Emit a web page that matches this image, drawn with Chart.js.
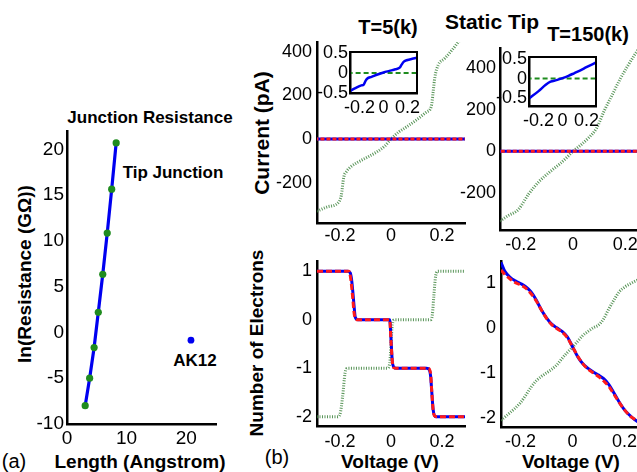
<!DOCTYPE html>
<html>
<head>
<meta charset="utf-8">
<script src="https://cdn.jsdelivr.net/npm/chart.js@4.4.1/dist/chart.umd.min.js"></script>
<style>
  body { margin: 0; width: 637px; height: 472px; overflow: hidden; background: #fff; position: relative;
         font-family: "Liberation Sans", Arial, sans-serif; color: #000; }
  canvas { position: absolute; }
  .lbl { position: absolute; white-space: nowrap; font-weight: bold; line-height: 1; transform: translate(-50%, -50%); }
  .rot { transform: translate(-50%, -50%) rotate(-90deg); }
  .plain { font-weight: normal; }
</style>
</head>
<body>
<div class="lbl" style="left:150px;top:117px;font-size:17px">Junction Resistance</div>
<div class="lbl" style="left:173px;top:172px;font-size:17px">Tip Junction</div>
<div class="lbl" style="left:195px;top:360px;font-size:17px">AK12</div>
<div class="lbl plain" style="left:14px;top:461px;font-size:20px">(a)</div>
<div class="lbl" style="left:140px;top:461px;font-size:19px">Length (Angstrom)</div>
<div class="lbl rot" style="left:24px;top:274px;font-size:19px">ln(Resistance (GΩ))</div>
<div class="lbl" style="left:388px;top:27px;font-size:20px">T=5(k)</div>
<div class="lbl" style="left:492px;top:21px;font-size:21px">Static Tip</div>
<div class="lbl" style="left:588px;top:34px;font-size:20px">T=150(k)</div>
<div class="lbl rot" style="left:261px;top:133px;font-size:21px">Current (pA)</div>
<div class="lbl rot" style="left:256px;top:343px;font-size:19px">Number of Electrons</div>
<div class="lbl plain" style="left:277px;top:457px;font-size:20px">(b)</div>
<div class="lbl" style="left:390px;top:461px;font-size:19px">Voltage (V)</div>
<div class="lbl" style="left:571px;top:461px;font-size:19px">Voltage (V)</div>
<script>
// (a) junction resistance vs length
const lenA = [3.05, 3.8, 4.55, 5.25, 6.0, 6.75, 7.5, 8.25];
const lnResA = [-8.0, -5.0, -1.65, 2.2, 6.35, 10.85, 15.65, 20.7];
const ak12Len = [20.8];
const ak12Res = [-0.85];
const ticksLen = [0, 10, 20];
const ticksLnRes = [-10, -5, 0, 5, 10, 15, 20];

// (b) shared ticks
const ticksV = [-0.2, 0, 0.2];
const ticksCur = [-200, 0, 200, 400];
const ticksNe = [-2, -1, 0, 1];
const ticksInset = [-0.5, 0, 0.5];
const zeroV = [-0.3, 0.3];
const zeroI = [0, 0];

// current, T=5 (green dotted)
const vCur5 = [-0.29, -0.25, -0.205, -0.195, -0.185, -0.175, -0.16, -0.135, -0.09, -0.05, -0.025, 0, 0.03, 0.06, 0.10, 0.14, 0.158, 0.165, 0.172, 0.185, 0.21, 0.24, 0.27, 0.29];
const iCur5 = [-332, -312, -290, -260, -175, -150, -130, -110, -82, -55, -33, 0, 32, 55, 88, 125, 150, 215, 285, 340, 370, 410, 455, 480];
// current, T=150 (green dotted)
const vCur150 = [-0.28, -0.25, -0.21, -0.17, -0.13, -0.09, -0.05, -0.02, 0, 0.03, 0.06, 0.09, 0.12, 0.15, 0.18, 0.21, 0.24, 0.28];
const iCur150 = [-335, -310, -280, -205, -145, -100, -60, -25, 0, 30, 65, 110, 195, 270, 345, 410, 470, 540];
// insets (blue)
const vIn5 = [-0.28, -0.23, -0.185, -0.165, -0.15, -0.135, -0.1, -0.05, 0, 0.05, 0.1, 0.135, 0.15, 0.17, 0.2, 0.24, 0.28];
const iIn5 = [-0.45, -0.37, -0.31, -0.29, -0.2, -0.14, -0.1, -0.04, 0.01, 0.05, 0.09, 0.13, 0.2, 0.28, 0.32, 0.35, 0.38];
const vIn150 = [-0.28, -0.2, -0.14, -0.1, -0.05, 0, 0.05, 0.1, 0.15, 0.2, 0.28];
const iIn150 = [-0.51, -0.32, -0.16, -0.08, -0.04, 0.01, 0.07, 0.14, 0.21, 0.29, 0.41];

// electrons, T=5
const vNeBlue5 = [-0.29, -0.17, -0.16, -0.155, -0.15, -0.145, -0.14, -0.13, -0.005, 0, 0.005, 0.012, 0.02, 0.14, 0.15, 0.155, 0.16, 0.165, 0.175, 0.29];
const nBlue5 = [1, 1, 0.97, 0.85, 0.6, 0.3, 0.05, 0, 0, -0.4, -0.85, -0.98, -1, -1, -1.03, -1.15, -1.5, -1.85, -2, -2];
const vNeRed5 = [-0.29, -0.165, -0.158, -0.15, -0.145, -0.14, -0.13, -0.005, 0, 0.006, 0.012, 0.02, 0.145, 0.155, 0.16, 0.165, 0.17, 0.18, 0.29];
const nRed5 = [1, 1, 0.85, 0.45, 0.15, 0.02, 0, 0, -0.45, -0.9, -0.99, -1, -1, -1.1, -1.5, -1.85, -1.98, -2, -2];
const vNeGreen5 = [-0.29, -0.21, -0.2, -0.19, -0.18, -0.17, -0.015, -0.005, 0, 0.005, 0.015, 0.155, 0.162, 0.168, 0.175, 0.185, 0.29];
const nGreen5 = [-2, -2, -1.95, -1.6, -1.1, -1, -1, -0.9, -0.5, -0.1, 0, 0, 0.1, 0.5, 0.9, 1, 1];

// electrons, T=150
const vNe150 = [-0.275, -0.26, -0.24, -0.22, -0.2, -0.18, -0.16, -0.14, -0.12, -0.1, -0.08, -0.06, -0.04, -0.02, 0, 0.02, 0.04, 0.06, 0.08, 0.1, 0.12, 0.14, 0.16, 0.18, 0.2, 0.22, 0.24, 0.26, 0.275];
const nBlue150 = [1.45, 1.25, 1.12, 1.04, 0.98, 0.91, 0.8, 0.62, 0.4, 0.22, 0.08, 0.0, -0.08, -0.2, -0.42, -0.64, -0.8, -0.9, -0.98, -1.05, -1.13, -1.26, -1.45, -1.65, -1.82, -1.94, -2.04, -2.12, -2.18];
const nRed150 = [1.28, 1.18, 1.08, 1.0, 0.95, 0.88, 0.76, 0.6, 0.4, 0.21, 0.07, -0.02, -0.1, -0.22, -0.42, -0.63, -0.8, -0.92, -1.0, -1.08, -1.18, -1.3, -1.48, -1.66, -1.82, -1.95, -2.03, -2.1, -2.15];
const nGreen150 = [-2.05, -1.98, -1.88, -1.78, -1.66, -1.5, -1.32, -1.18, -1.08, -1.0, -0.92, -0.82, -0.68, -0.55, -0.43, -0.3, -0.17, -0.08, 0.0, 0.06, 0.2, 0.42, 0.62, 0.8, 0.9, 0.97, 1.03, 1.08, 1.12];

const BLUE = '#0000f0';
const RED = '#ff1a1a';
const GREEN = '#1f8c1f';
const GREEN_DOT = 'rgba(60,130,60,0.85)';

Chart.defaults.font.family = '"Liberation Sans", Arial, sans-serif';
Chart.defaults.color = '#000';

const pts = (xs, ys) => xs.map((x, i) => ({ x: x, y: ys[i] }));

function line(xs, ys, color, width, dash) {
  return {
    data: pts(xs, ys), showLine: true, borderColor: color, borderWidth: width,
    borderDash: dash || [], pointRadius: 0, cubicInterpolationMode: 'monotone', fill: false
  };
}

// white box with a full black frame, for the insets
const framePlugin = {
  id: 'frame',
  beforeDraw(chart) {
    const a = chart.chartArea, ctx = chart.ctx;
    ctx.save();
    ctx.fillStyle = '#fff';
    ctx.fillRect(a.left, a.top, a.right - a.left, a.bottom - a.top);
    ctx.restore();
  },
  afterDatasetsDraw(chart) {
    const a = chart.chartArea, ctx = chart.ctx;
    ctx.save();
    ctx.strokeStyle = '#000';
    ctx.lineWidth = 2;
    ctx.strokeRect(a.left, a.top, a.right - a.left, a.bottom - a.top);
    ctx.restore();
  }
};

function axis(range, ticks, size, horiz, font, gap) {
  return {
    type: 'linear', min: range[0], max: range[1],
    grid: { display: false, drawTicks: false },
    border: { display: true, color: '#000', width: 2.5 },
    ticks: { font: { size: font }, color: '#000', padding: gap, autoSkip: false, maxRotation: 0, minRotation: 0,
             callback: v => String(v) },
    afterBuildTicks: s => { s.ticks = ticks.map(v => ({ value: v })); },
    afterFit: s => {
      if (horiz) s.height = size; else s.width = size;
      s.paddingLeft = 0; s.paddingRight = 0; s.paddingTop = 0; s.paddingBottom = 0;
    }
  };
}

// box = plot area in page pixels, pad = room around it for tick labels
function makePanel(box, pad, opt) {
  const c = document.createElement('canvas');
  const w = box.r - box.l + pad.l + pad.r;
  const h = box.b - box.t + pad.t + pad.b;
  c.width = w;
  c.height = h;
  c.style.left = (box.l - pad.l) + 'px';
  c.style.top = (box.t - pad.t) + 'px';
  c.style.width = w + 'px';
  c.style.height = h + 'px';
  document.body.appendChild(c);
  return new Chart(c, {
    type: 'scatter',
    data: { datasets: opt.datasets },
    options: {
      responsive: false, animation: false, devicePixelRatio: 1,
      layout: { padding: { left: 0, top: pad.t, right: pad.r, bottom: 0 } },
      plugins: { legend: { display: false }, tooltip: { enabled: false } },
      scales: {
        x: axis(opt.xr, opt.xt, pad.b, true, opt.font, opt.xgap),
        y: axis(opt.yr, opt.yt, pad.l, false, opt.font, opt.ygap)
      }
    },
    plugins: opt.frame ? [framePlugin] : []
  });
}

// (a)
makePanel({ l: 67, t: 131, r: 216, b: 424 }, { l: 60, t: 5, r: 5, b: 30 }, {
  xr: [0, 25], yr: [-10, 22], xt: ticksLen, yt: ticksLnRes, font: 19, xgap: 3, ygap: 3,
  datasets: [
    { data: pts(lenA, lnResA), showLine: false, pointRadius: 3.6, pointBackgroundColor: GREEN, pointBorderWidth: 0 },
    { data: pts(lenA, lnResA), showLine: true, borderColor: BLUE, borderWidth: 3.2, pointRadius: 0, tension: 0 },
    { data: pts(ak12Len, ak12Res), showLine: false, pointRadius: 3.4, pointBackgroundColor: BLUE, pointBorderWidth: 0 }
  ]
});

// (b) current, T=5
makePanel({ l: 317, t: 42, r: 465, b: 223 }, { l: 55, t: 5, r: 5, b: 28 }, {
  xr: [-0.29, 0.29], yr: [-386, 446], xt: ticksV, yt: ticksCur, font: 18, xgap: 2, ygap: 5,
  datasets: [
    line(zeroV, zeroI, RED, 3, [4, 2]),
    line(zeroV, zeroI, BLUE, 3),
    line(vCur5, iCur5, GREEN_DOT, 3, [1, 1.5])
  ]
});

// (b) current, T=150
makePanel({ l: 500, t: 48, r: 646, b: 230 }, { l: 55, t: 5, r: 2, b: 28 }, {
  xr: [-0.28, 0.28], yr: [-378, 496], xt: ticksV, yt: ticksCur, font: 18, xgap: 4, ygap: 4,
  datasets: [
    line(zeroV, zeroI, RED, 3, [4, 2]),
    line(zeroV, zeroI, BLUE, 3),
    line(vCur150, iCur150, GREEN_DOT, 3, [1, 1.5])
  ]
});

// (b) electrons, T=5
makePanel({ l: 317, t: 261, r: 465, b: 426 }, { l: 40, t: 5, r: 5, b: 28 }, {
  xr: [-0.29, 0.29], yr: [-2.19, 1.21], xt: ticksV, yt: ticksNe, font: 18, xgap: 5, ygap: 5,
  datasets: [
    line(vNeRed5, nRed5, RED, 3, [6, 3]),
    line(vNeBlue5, nBlue5, BLUE, 3),
    line(vNeGreen5, nGreen5, GREEN_DOT, 3, [1, 1.5])
  ]
});

// (b) electrons, T=150
makePanel({ l: 501, t: 261, r: 644, b: 427 }, { l: 40, t: 5, r: 2, b: 28 }, {
  xr: [-0.275, 0.275], yr: [-2.2, 1.48], xt: ticksV, yt: ticksNe, font: 18, xgap: 4, ygap: 5,
  datasets: [
    line(vNe150, nRed150, RED, 3, [6, 3]),
    line(vNe150, nBlue150, BLUE, 3),
    line(vNe150, nGreen150, GREEN_DOT, 3, [1, 1.5])
  ]
});

// insets
makePanel({ l: 350, t: 52, r: 417, b: 93 }, { l: 40, t: 8, r: 8, b: 25 }, {
  xr: [-0.28, 0.28], yr: [-0.5, 0.52], xt: ticksV, yt: ticksInset, font: 18, xgap: 4, ygap: 2, frame: true,
  datasets: [
    line(vIn5, iIn5, BLUE, 2.5),
    line(zeroV, zeroI, GREEN, 2, [5, 3])
  ]
});

makePanel({ l: 529, t: 57, r: 596, b: 106 }, { l: 40, t: 8, r: 8, b: 25 }, {
  xr: [-0.28, 0.28], yr: [-0.7, 0.55], xt: ticksV, yt: ticksInset, font: 18, xgap: 4, ygap: 2, frame: true,
  datasets: [
    line(vIn150, iIn150, BLUE, 2.5),
    line(zeroV, zeroI, GREEN, 2, [5, 3])
  ]
});
</script>
</body>
</html>
